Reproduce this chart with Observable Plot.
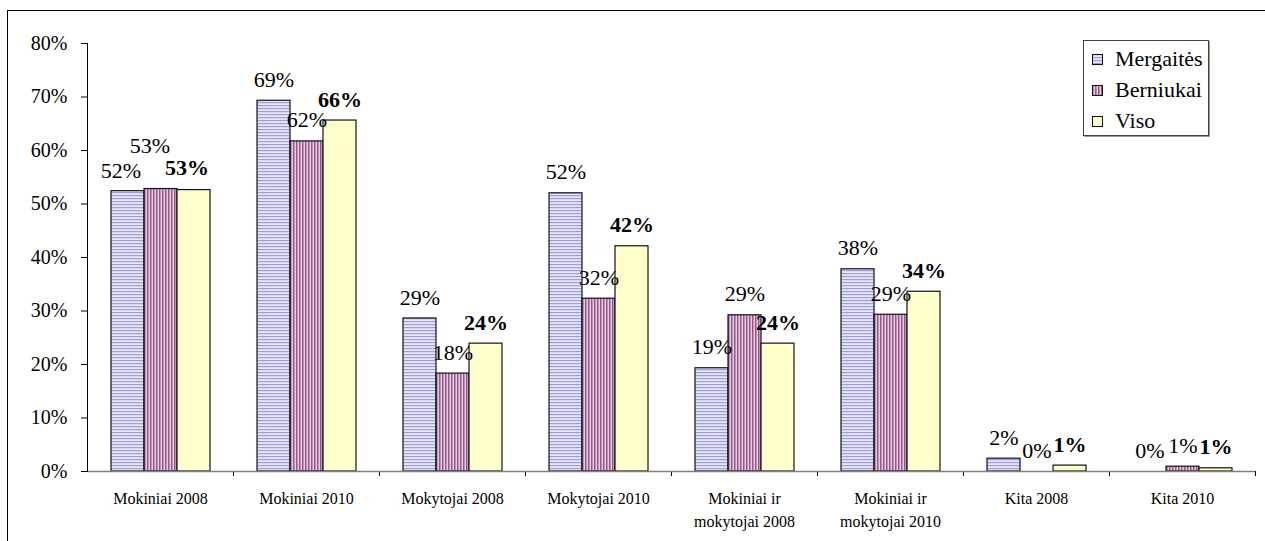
<!DOCTYPE html>
<html>
<head>
<meta charset="utf-8">
<script src="https://cdn.jsdelivr.net/npm/d3@7"></script>
<script src="https://cdn.jsdelivr.net/npm/@observablehq/plot@0.6"></script>
<style>
  html, body { margin: 0; padding: 0; background: #fff; overflow: hidden; font-family: 'Liberation Serif', serif; }
  #wrap { position: relative; width: 1265px; height: 541px; overflow: hidden; font-family: 'Liberation Serif', serif; }
  #border { position: absolute; left: 7px; top: 10px; width: 1400px; height: 700px; border-left: 1.5px solid #000; border-top: 1.5px solid #000; }
  #chart { position: absolute; left: 0; top: 0; }
  #chart svg, #chart svg text { font-family: 'Liberation Serif', serif !important; }
  #legend { position: absolute; left: 1083px; top: 40px; width: 124px; height: 94px; border: 1px solid #444; box-shadow: 1px 1px 0 #999; background: #fff; }
  .item { position: absolute; left: 8px; height: 24px; display: flex; align-items: center; font-size: 22px; color: #000; font-family: 'Liberation Serif', serif; }
  .item svg { margin-right: 12px; }
</style>
</head>
<body>
<div id="wrap">
  <div id="border"></div>
  <div id="chart"></div>
  <div id="legend"></div>
</div>
<script>
const categories = ["Mokiniai 2008", "Mokiniai 2010", "Mokytojai 2008", "Mokytojai 2010",
  "Mokiniai ir\nmokytojai 2008", "Mokiniai ir\nmokytojai 2010", "Kita 2008", "Kita 2010"];
const series = ["Mergaitės", "Berniukai", "Viso"];
const mergaites = [0.524, 0.693, 0.286, 0.520, 0.193, 0.378, 0.024, 0.0];
const berniukai = [0.528, 0.617, 0.183, 0.323, 0.292, 0.293, 0.0, 0.009];
const viso      = [0.526, 0.656, 0.239, 0.421, 0.239, 0.336, 0.011, 0.006];
const yTicks = [0, 0.1, 0.2, 0.3, 0.4, 0.5, 0.6, 0.7, 0.8];

const seriesValues = [mergaites, berniukai, viso];
const fills = ["url(#pM)", "url(#pB)", "#ffffcc"];
const rows = categories.flatMap((c, i) => series.map((s, j) => ({category: c, series: s, value: seriesValues[j][i]})));
const pct = d3.format(".0%");
const first = categories[0];
const FONT = "Liberation Serif, serif";

const svg = Plot.plot({
  width: 1265,
  height: 541,
  marginLeft: 87,
  marginRight: 10,
  marginTop: 43,
  marginBottom: 70,
  style: {fontFamily: FONT, background: "transparent", color: "#000"},
  fx: {domain: categories, padding: 0, label: null},
  x: {domain: series, paddingInner: 0, paddingOuter: 0.71, axis: null},
  y: {domain: [0, 0.8], label: null},
  color: {domain: series, range: fills, legend: false},
  marks: [
    Plot.axisY({ticks: yTicks, tickFormat: pct, tickSize: 6, tickPadding: 14, fontSize: 20, label: null}),
    Plot.axisFx({anchor: "bottom", tickSize: 0, tickPadding: 17, fontSize: 16, lineHeight: 1.4, label: null}),
    Plot.axisFx({anchor: "bottom", tickSize: 5, tickFormat: () => "", dx: 73, label: null, stroke: "#000"}),
    Plot.barY(rows.filter(d => d.value > 0), {fx: "category", x: "series", y: "value", fill: "series", stroke: "#111", strokeWidth: 1.2}),
    Plot.ruleY([0], {stroke: "#808080", strokeWidth: 1.5}),
    Plot.frame({anchor: "left", facet: "super", stroke: "#000"}),
    Plot.text(rows.filter(d => d.series !== "Viso" && d.category !== first),
      {fx: "category", x: "series", y: "value", text: d => pct(d.value), dy: -21, fontSize: 22}),
    Plot.text(rows.filter(d => d.series === "Viso" && d.category !== first),
      {fx: "category", x: "series", y: "value", text: d => pct(d.value), dy: -21, fontSize: 22, fontWeight: "bold"}),
    Plot.text(rows.filter(d => d.series === "Mergaitės" && d.category === first),
      {fx: "category", x: "series", y: "value", text: d => pct(d.value), dx: -7, dy: -20, fontSize: 22}),
    Plot.text(rows.filter(d => d.series === "Berniukai" && d.category === first),
      {fx: "category", x: "series", y: "value", text: d => pct(d.value), dx: -11, dy: -43, fontSize: 22}),
    Plot.text(rows.filter(d => d.series === "Viso" && d.category === first),
      {fx: "category", x: "series", y: "value", text: d => pct(d.value), dx: -7, dy: -22, fontSize: 22, fontWeight: "bold"})
  ]
});

const defs = d3.select(svg).insert("defs", ":first-child");
const pM = defs.append("pattern").attr("id", "pM").attr("patternUnits", "userSpaceOnUse").attr("width", 4).attr("height", 3);
pM.append("rect").attr("width", 4).attr("height", 3).attr("fill", "#e6e6fa");
pM.append("rect").attr("width", 4).attr("height", 1.2).attr("fill", "#9e9edc");
const pB = defs.append("pattern").attr("id", "pB").attr("patternUnits", "userSpaceOnUse").attr("width", 3).attr("height", 4);
pB.append("rect").attr("width", 3).attr("height", 4).attr("fill", "#ecc8e4");
pB.append("rect").attr("width", 1.5).attr("height", 4).attr("fill", "#8f5c86");

document.getElementById("chart").appendChild(svg);

const legend = d3.select("#legend");
series.forEach((s, i) => {
  const item = legend.append("div").attr("class", "item").style("top", (6 + i * 31) + "px");
  const sw = item.append("svg").attr("width", 11).attr("height", 11);
  sw.append("rect").attr("x", 0.5).attr("y", 0.5).attr("width", 10).attr("height", 10)
    .attr("fill", fills[i]).attr("stroke", "#111").attr("stroke-width", 1);
  item.append("span").text(s);
});
</script>
</body>
</html>
